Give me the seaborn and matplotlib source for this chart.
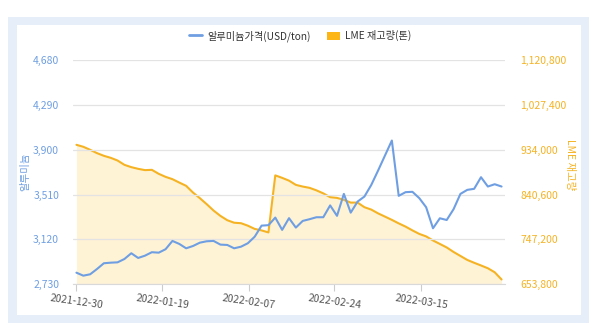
import matplotlib
matplotlib.use("Agg")
import matplotlib.pyplot as plt
import seaborn as sns
import pandas as pd
from matplotlib.lines import Line2D
from matplotlib.patches import Patch, Rectangle

# ---- data ----
price = [2831, 2805, 2817, 2863, 2913, 2918, 2921, 2950, 3000, 2959,
         2979, 3009, 3005, 3035, 3107, 3081, 3043, 3063, 3092, 3104,
         3107, 3075, 3072, 3043, 3057, 3087, 3144, 3240, 3244, 3310,
         3203, 3305, 3223, 3281, 3296, 3313, 3313, 3416, 3325, 3516,
         3353, 3449, 3493, 3594, 3720, 3850, 3980, 3499, 3531, 3534,
         3479, 3400, 3217, 3304, 3289, 3383, 3516, 3551, 3560, 3661,
         3580, 3600, 3580]
stock = [944200, 940100, 933800, 926900, 921300, 917100, 911500, 902500, 897700, 894200,
         891500, 892100, 883800, 877500, 872700, 865600, 858800, 844800, 833100, 820600,
         807300, 796200, 787200, 782000, 781000, 775800, 769100, 766000, 761800, 880600,
         875400, 869600, 860800, 857300, 854600, 849400, 843100, 835200, 833700, 829600,
         823900, 823900, 814300, 809300, 801400, 794700, 787900, 780600, 773900, 766000,
         758700, 753500, 745100, 737800, 730500, 721100, 712800, 704500, 698600, 693000,
         687200, 678800, 663800]
tick_labels = ["2021-12-30", "2022-01-19", "2022-02-07", "2022-02-24", "2022-03-15"]
left_ticks = [2730, 3120, 3510, 3900, 4290, 4680]
right_ticks = [653800, 747200, 840600, 934000, 1027400, 1120800]
series_names = ["알루미늄가격(USD/ton)", "LME 재고량(톤)"]

df = pd.DataFrame({"idx": range(len(price)), "price": price, "stock": stock})
tick_pos = [0, 12.55, 25.1, 37.6, 50.3]

BLUE = "#6f9fe2"
ORANGE = "#f5b324"
FILL = "#fff3d6"

sns.set_style("white")
plt.rcParams["font.family"] = ["Noto Sans CJK KR", "DejaVu Sans"]

fig = plt.figure(figsize=(6, 3.3), dpi=100)
fig.patch.set_facecolor("white")
# frame
fig.patches.append(Rectangle((8/600, 1-323/330), 581/600, 306/330, transform=fig.transFigure,
                             facecolor="#e6eef9", edgecolor="none", zorder=-10))
fig.patches.append(Rectangle((17/600, 1-315/330), 564/600, 290/330, transform=fig.transFigure,
                             facecolor="white", edgecolor="none", zorder=-9))

ax = fig.add_axes([73/600, 1-284.3/330, 432/600, 224.3/330])
ax2 = ax.twinx()

# orange area on twin axis
ax2.fill_between(df["idx"], df["stock"], 653800, color=FILL, linewidth=0, zorder=1)
sns.lineplot(data=df, x="idx", y="stock", ax=ax2, color=ORANGE, linewidth=1.5, zorder=2)
# blue price line on main axis
sns.lineplot(data=df, x="idx", y="price", ax=ax, color=BLUE, linewidth=1.5, zorder=3)

ax.set_zorder(ax2.get_zorder() + 1)
ax.patch.set_visible(False)
ax2.patch.set_visible(False)

ax.set_xlim(-0.5, len(price) - 0.5)
ax.set_ylim(2730, 4680)
ax2.set_ylim(653800, 1120800)

ax.set_yticks(left_ticks)
ax.set_yticklabels([f"{v:,}" for v in left_ticks], color=BLUE, fontsize=7.5)
ax2.set_yticks(right_ticks)
ax2.set_yticklabels([f"{v:,}" for v in right_ticks], color=ORANGE, fontsize=7.5)
ax.tick_params(axis="y", length=0, pad=10)
ax2.tick_params(axis="y", length=0, pad=11)

ax.set_xticks(tick_pos)
ax.set_xticklabels(tick_labels, rotation=-8, fontsize=7.5, color="#555555")
ax.tick_params(axis="x", length=5, width=0.8, color="#cccccc", pad=1, direction="out")
ax.xaxis.set_ticks_position("bottom")

ax.grid(axis="y", color="#e3e3e3", linewidth=0.9)
ax.grid(axis="x", visible=False)
ax2.grid(False)
for a in (ax, ax2):
    for s in ("top", "left", "right"):
        a.spines[s].set_visible(False)
ax.spines["bottom"].set_color("#d9d9d9")
ax2.spines["bottom"].set_visible(False)

ax.set_xlabel("")
ax.set_ylabel("")
ax2.set_ylabel("")

fig.text(25/600, 1-172/330, "알루미늄", rotation=90, color=BLUE, fontsize=7.5,
         ha="center", va="center")
fig.text(570/600, 1-165/330, "LME 재고량", rotation=270, color=ORANGE, fontsize=7.5,
         ha="center", va="center")

handles = [Line2D([], [], color=BLUE, linewidth=2),
           Patch(facecolor="#fdb515", edgecolor="none")]
fig.legend(handles, series_names, loc="center", bbox_to_anchor=(0.5, 1-36/330), ncol=2,
           frameon=False, fontsize=7.3, handlelength=1.3, handleheight=0.9, columnspacing=1.6,
           handletextpad=0.5, labelcolor="#333333")

fig.savefig("out.png", dpi=100, facecolor="white")
